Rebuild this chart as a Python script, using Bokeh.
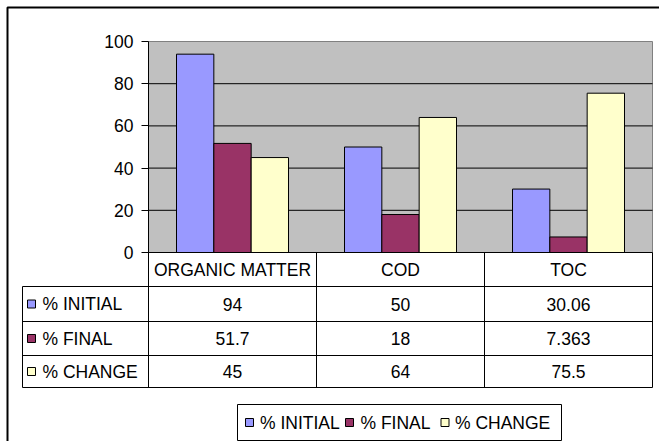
from bokeh.plotting import figure
from bokeh.models import Range1d, LinearAxis, FixedTicker
from bokeh.core.properties import value
from bokeh.embed import file_html
from bokeh.resources import INLINE

# ---------------- data ----------------
categories = ["ORGANIC MATTER", "COD", "TOC"]
series_names = ["% INITIAL", "% FINAL", "% CHANGE"]
initial = [94, 50, 30.06]
final = [51.7, 18, 7.363]
change = [45, 64, 75.5]
y_ticks = [0, 20, 40, 60, 80, 100]

series_values = [initial, final, change]
colors = ["#9999FF", "#993366", "#FFFFCC"]

FONT = "Liberation Sans"
FS = "17.5px"

# ---------------- layout (pixels) ----------------
W, H = 659, 441
PL, PR, PT, PB = 148, 652, 41, 252          # plot area
cat_w = (PR - PL) / len(categories)
ppu_y = (PB - PT) / (y_ticks[-1] - y_ticks[0])
row_lines = [286, 321, 355, 387]           # table horizontal lines
table_left = 22

x_range = Range1d(-PL / cat_w, (W - PL) / cat_w)
y_range = Range1d((PB - H) / ppu_y, PB / ppu_y)

p = figure(width=W, height=H, x_range=x_range, y_range=y_range,
           x_axis_type=None, y_axis_type=None, toolbar_location=None,
           output_backend="svg", min_border=0, outline_line_color=None,
           background_fill_color="white", border_fill_color="white")
p.extra_x_ranges = {"px": Range1d(0, W)}
p.extra_y_ranges = {"px": Range1d(H, 0)}
PX = dict(x_range_name="px", y_range_name="px")

# plot area background
n = len(categories)
p.quad(left=0, right=n, bottom=y_ticks[0], top=y_ticks[-1],
       fill_color="#C0C0C0", line_color="#808080", line_width=1)
# gridlines
inner = y_ticks[1:-1]
p.segment(x0=[0] * len(inner), x1=[n] * len(inner), y0=inner, y1=inner,
          line_color="black", line_width=1)

# bars
bw = 1 / 4.5
for j, (vals, col) in enumerate(zip(series_values, colors)):
    xs = [i + 0.5 + (j - 1) * bw for i in range(n)]
    p.vbar(x=xs, top=vals, bottom=0, width=bw, fill_color=col,
           line_color="black", line_width=1)

# y axis
ax = LinearAxis(fixed_location=0, bounds=(y_ticks[0], y_ticks[-1]),
                ticker=FixedTicker(ticks=y_ticks, minor_ticks=[]))
ax.major_tick_in = 0
ax.major_tick_out = 7
ax.minor_tick_in = 0
ax.minor_tick_out = 0
ax.major_tick_line_color = "black"
ax.axis_line_color = "black"
ax.major_label_standoff = 8
ax.major_label_text_font = FONT
ax.major_label_text_font_size = FS
ax.major_label_text_color = "black"
p.add_layout(ax, "left")

# ---------------- data table ----------------
col_x = [PL + i * cat_w for i in range(n + 1)]
p.segment(x0=[PL], x1=[PR], y0=[PB], y1=[PB], line_color="black", line_width=1, **PX)
p.segment(x0=[table_left] * len(row_lines), x1=[PR] * len(row_lines),
          y0=row_lines, y1=row_lines, line_color="black", line_width=1, **PX)
p.segment(x0=col_x, x1=col_x, y0=[PB] * len(col_x), y1=[row_lines[-1]] * len(col_x),
          line_color="black", line_width=1, **PX)
p.segment(x0=[table_left], x1=[table_left], y0=[row_lines[0]], y1=[row_lines[-1]],
          line_color="black", line_width=1, **PX)

centers = [PL + (i + 0.5) * cat_w for i in range(n)]
p.text(x=centers, y=[(PB + row_lines[0]) / 2] * n, text=categories,
       text_font=value(FONT), text_font_size=FS, text_align="center",
       text_baseline="middle", text_color="black", **PX)

for r, (name, vals, col) in enumerate(zip(series_names, series_values, colors)):
    yc = (row_lines[r] + row_lines[r + 1]) / 2
    p.rect(x=[31], y=[yc], width=8, height=8, fill_color=col,
           line_color="black", line_width=1, **PX)
    p.text(x=[42], y=[yc], text=[name], text_font=value(FONT), text_font_size=FS,
           text_align="left", text_baseline="middle", text_color="black", **PX)
    p.text(x=centers, y=[yc] * n, text=[f"{v:g}" for v in vals],
           text_font=value(FONT), text_font_size=FS, text_align="center",
           text_baseline="middle", text_color="black", **PX)

# ---------------- legend ----------------
p.quad(left=237, right=561, top=404, bottom=440, fill_color="white",
       line_color="black", line_width=1, **PX)
leg_sq = [249, 349, 444.5]
leg_tx = [259.5, 360, 454.5]
p.rect(x=leg_sq, y=[422] * 3, width=8, height=8, fill_color=colors,
       line_color="black", line_width=1, **PX)
p.text(x=leg_tx, y=[422] * 3, text=series_names, text_font=value(FONT),
       text_font_size=FS, text_align="left", text_baseline="middle",
       text_color="black", **PX)

# outer chart border
p.line(x=[7, 7, W + 10], y=[H + 10, 7, 7], line_color="black", line_width=2, **PX)

open("out.html", "w").write(file_html(p, INLINE))
